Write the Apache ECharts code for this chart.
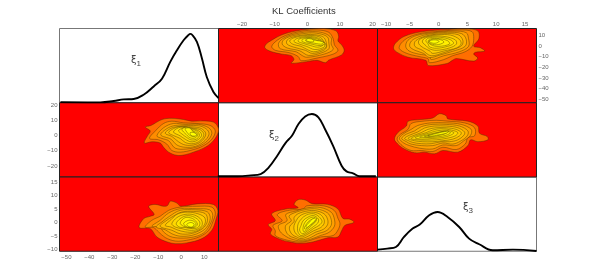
<!DOCTYPE html>
<html><head><meta charset="utf-8">
<style>html,body{margin:0;padding:0;background:#fff}#c{width:596px;height:280px}</style>
<script src="https://cdn.jsdelivr.net/npm/echarts@6/dist/echarts.min.js"></script>
</head><body><div id="c"></div>
<script>
const title = 'KL Coefficients';
const xi1Range = [-53, 16.2], xi2Range = [-27.2, 21.5], xi3Range = [-10.6, 17];
const xi1Ticks = [-50,-40,-30,-20,-10,0,10];
const xi2Ticks = [-20,-10,0,10,20];
const xi3Ticks = [-10,-5,0,5,10,15];
const xi1Density = [[-52.6,.009],[-35.2,.005],[-29.4,.023],[-25.1,.045],[-20.7,.05],[-16.4,.108],[-12,.22],[-8.4,.324],[-4.8,.55],[-1.9,.707],[1,.842],[3.2,.914],[3.9,.928],[4.6,.919],[6.8,.82],[9,.595],[11.1,.347],[14,.144],[16.2,.063]];
const xi2Density = [[-27.4,.01],[-21.4,.01],[-17.3,.022],[-14.3,.04],[-11.8,.13],[-9.2,.287],[-6.7,.457],[-4.7,.556],[-2.7,.713],[-.65,.816],[1.4,.848],[3.4,.803],[5.4,.646],[7.9,.42],[10.5,.152],[12,.076],[14,.05],[16,.01],[21,.01]];
const xi3Density = [[-10.6,.022],[-8.9,.036],[-7.4,.058],[-6,.193],[-4.5,.305],[-3.26,.359],[-1.63,.484],[-.18,.529],[1.56,.462],[3.58,.327],[5.3,.17],[7.06,.094],[9.4,.013],[12.9,.022],[17,.004]];
// contour rings, outermost first: [xi1, xi2]
const contours12 = [
[[-15.7,5.55],[-13.2,6.6],[-8.4,10.5],[-4.1,11.3],[1,10.5],[4.6,9.4],[9,9.6],[14,8.8],[16.1,5.1],[15.8,.85],[13.3,-4.5],[9.7,-8.3],[5.3,-10.9],[1.7,-12.6],[-1.9,-13],[-5.5,-10.9],[-7.7,-7.7],[-9.2,-4.9],[-12.8,-4.1],[-16.1,-4.9],[-14.7,-.2],[-13.5,3]],
[[-13.8,-1.9],[-11.3,3],[-7.7,7.9],[-4.1,9.4],[1,8.3],[6.8,7.9],[12.6,6.6],[14.8,3],[13.3,-2.4],[9.7,-6.6],[5.3,-9.2],[-.5,-10.9],[-4.1,-9.8],[-6.3,-5.6],[-9.9,-2.8]],
[[-10.6,-.2],[-7.7,5.1],[-3.4,7.9],[1.7,7.3],[7.5,7.3],[11.9,5.1],[13.3,1.5],[11.4,-3.4],[7.5,-7.1],[2.4,-8.8],[-2.6,-8.3],[-5.5,-3.4],[-8.4,-1.9]],
[[-8.9,.4],[-6.3,4.5],[-2.6,6.6],[2.4,6.6],[8.2,6.2],[11.4,3.6],[12,.4],[9.7,-4.1],[6.1,-7.1],[1.7,-7.7],[-1.9,-6.2],[-4.5,-2.4]],
[[-7,1.5],[-4.8,4.5],[-1.9,5.8],[3.2,5.8],[8.2,4.9],[10.4,2.3],[10.5,-.2],[8.5,-4.1],[5.3,-6.2],[1.7,-6.2],[-1.2,-4.1],[-4.1,-.6]],
[[-5.5,1.9],[-3.4,4.5],[-.5,5.8],[3.9,5.1],[7.9,4],[9.7,1.5],[9.4,-1.3],[7.5,-4.1],[4.6,-5.4],[1.7,-4.5],[-.5,-1.9],[-3.4,0]],
[[-3.4,2.3],[-1.2,5.1],[1.7,5.3],[5.3,4.5],[8.2,2.3],[8.8,-.2],[6.8,-3.2],[4.2,-4.1],[1.7,-2.4],[-.5,-.2]],
[[-1.2,3.2],[1,4.9],[3.9,4.5],[6.8,2.8],[7.9,.2],[6.5,-2.4],[4.2,-2.8],[2.2,-1.1],[.3,1]],
[[.3,4],[2.4,5.4],[5,3.2],[7.2,.85],[6.1,-1.5],[3.9,-1.5],[2.2,.6]],
[[1.7,4.5],[3.6,4.9],[5.3,2.3],[6.5,.4],[5.3,-.6],[3.6,.2],[2.4,2.3]],
[[3.9,1.9],[5.6,1.9],[6.8,.4],[5.6,-.4],[4.2,.2]]
];
// [xi1, xi3]
const contours13 = [
[[-18.3,-1.8],[-16.4,1.5],[-13.5,2.4],[-11.8,3.1],[-14.2,6.1],[-11.3,6.8],[-7.7,6.1],[-6,6.4],[-4.8,8],[-1.9,7.3],[-.2,6.1],[6.8,7],[14,6.8],[15.9,4.6],[15.2,1.5],[13.3,-2.8],[9,-5.9],[2.4,-7.5],[-2.6,-7.8],[-6.3,-7.1],[-10.6,-5.3],[-13.5,-2.2]],
[[-15.7,-1.6],[-12.8,.9],[-9.2,2.4],[-5.5,4.6],[-.5,5.8],[6.8,6.1],[13.3,5.8],[14.8,3.6],[13.7,.3],[11.9,-2.8],[8.2,-5.1],[2.4,-6.5],[-2.6,-6.8],[-7,-5.5],[-9.9,-3.4],[-12.1,-1.8]],
[[-12.8,-1.3],[-9.2,.9],[-5.5,3.6],[-.5,5.2],[6.8,5.2],[12.3,4.8],[13.7,2.7],[12.3,-1],[9.7,-3.8],[5.3,-5.3],[-.5,-5.7],[-4.8,-5.1],[-7.7,-3.4],[-9.4,-1.6]],
[[-10.9,-1.6],[-8.4,.3],[-5.1,2.4],[-.5,4.6],[6.1,4.8],[11.4,4],[12.6,1.5],[11.1,-1.6],[8.5,-3.4],[4.6,-4.7],[-.5,-5],[-4.1,-4.1],[-7,-2.6]],
[[-9.2,-1.3],[-6.3,.9],[-4.1,2.1],[.3,4],[5.3,4.2],[10.4,3.4],[11.4,.9],[10,-1.6],[7.5,-3.1],[3.9,-4.1],[-.5,-4.1],[-4.1,-2.8]],
[[-7,-1],[-4.5,1.1],[-1.9,3.1],[1.7,3.9],[6.1,3.6],[10,2.1],[10.4,-.1],[8.5,-2.2],[5.3,-3.4],[1.7,-3.4],[-1.9,-2.6],[-4.5,-1.6]],
[[-4.1,-.4],[-1.9,1.9],[1.7,3.1],[5.6,2.9],[8.7,1.1],[9,-1],[6.8,-2.5],[3.6,-2.8],[.3,-2.2],[-2.6,-1.6]],
[[-2.2,-.4],[-.5,1.5],[2.4,2.6],[5.6,2.1],[8,.3],[7.5,-1.6],[5,-2.2],[1.7,-1.8],[-.8,-1.6]],
[[-.5,-.1],[1.7,1.9],[5,1.5],[7,-.35],[6.1,-1.6],[3.6,-1.8],[1,-1.3]],
[[1,-.35],[3.2,.9],[5.3,.6],[6.4,-.6],[5,-1.6],[2.7,-1.6]],
[[2.4,-.6],[4.2,.1],[5.6,-.6],[4.6,-1.6],[3,-1.3]]
];
// [xi3, xi2]
const contours32 = [
[[-7.66,-2.35],[-7.08,1.9],[-5.6,6.2],[-5.3,9.4],[-3,10.5],[-1,11.5],[.16,14.3],[1.32,13],[1.6,10.9],[5.1,9.4],[6.83,6.2],[7.1,1.5],[8.45,-.65],[8.57,-2.8],[6.83,-4.05],[5.56,-2.8],[5.1,-6.6],[3.35,-10.9],[.74,-9.8],[-.7,-12],[-2.44,-10.9],[-4.18,-11.3],[-6.2,-8.3],[-7.08,-5.55]],
[[-7.2,-2.35],[-6.6,.85],[-5.3,4],[-4.76,7.9],[-2.7,9.4],[-.4,10],[1.6,9.4],[4.5,8.3],[6.25,5.1],[6.25,-.2],[5.1,-1.3],[4.63,-5.55],[3.06,-9.2],[.74,-7.7],[-1,-10.5],[-3,-9.8],[-4.76,-9.8],[-6.2,-7]],
[[-6.8,-1.9],[-6.2,.85],[-4.76,4],[-3.6,6.6],[-1.3,8.3],[1.32,8.3],[3.93,7.3],[5.67,4],[5.56,.2],[4.4,-3.4],[3.06,-6.6],[.74,-6.2],[-1,-8.8],[-3.3,-8.3],[-5.05,-6.6],[-6.04,-4.9]],
[[-6.4,-1.9],[-5.6,.85],[-4.18,3],[-3,5.8],[-1,7.3],[1.32,7.3],[3.64,6.2],[5.1,3],[4.97,-.2],[3.93,-3.4],[2.48,-5.6],[.74,-4.9],[-1,-6.6],[-3,-6.6],[-4.76,-5.6],[-5.6,-4]],
[[-5.9,-1.9],[-5.05,.2],[-3.6,2.35],[-2.44,4.9],[-.7,6.2],[1.32,6.2],[3.35,5.1],[4.5,2.35],[4.4,.2],[3.35,-2.8],[1.9,-4.05],[.45,-4.05],[-1.28,-5.35],[-3,-5.35],[-4.5,-4.5],[-5.2,-3.4]],
[[-5.3,-1.9],[-4.47,-.2],[-3,1.9],[-1.86,4],[-.4,5.1],[1.32,5.1],[3.06,4],[3.93,1.9],[3.64,-.2],[2.48,-2.35],[.74,-3.4],[-1,-4.05],[-2.74,-4.05],[-4.18,-3.4]],
[[-4.76,-1.9],[-3.6,.2],[-2.15,1.9],[-1,3.6],[.45,4.5],[2.2,3.6],[3.35,1.9],[2.9,-.2],[1.32,-1.9],[-.4,-2.8],[-2.15,-3],[-3.6,-2.8]],
[[-4.07,-1.5],[-2.74,.4],[-1.4,1.9],[-.12,3.2],[1.32,3.4],[2.66,1.9],[2.08,.2],[.74,-1.3],[-1,-1.9],[-2.74,-2.35]],
[[-3.3,-1.1],[-1.86,.6],[-.4,1.9],[1.03,2.8],[2.08,1.9],[1.32,.2],[-.12,-.85],[-1.86,-1.3]],
[[-2.44,-.65],[-1,.85],[.45,2.35],[1.5,2.35],[.92,.85],[-.4,-.2],[-1.75,-.85]],
[[-1.86,-.2],[-.4,1.3],[.74,2.35],[1.73,2.8],[1.32,1.5],[-.12,.4],[-1.28,-.4]]
];
const levelColors = ['#ff6e00','#ff8c00','#ffa000','#ffb000','#ffbe00','#ffcc00','#ffd800','#ffe400','#ffee00','#fff800','#ffff00'];
const ranges = [xi1Range, xi2Range, xi3Range];
const ticks = [xi1Ticks, xi2Ticks, xi3Ticks];
const densities = [xi1Density, xi2Density, xi3Density];
const swapRing = r => r.map(p => [p[1], p[0]]);
// cellRings[row][col]: x variable = col, y variable = row
const cellRings = [
 [null, contours12.map(swapRing), contours13.map(swapRing)],
 [contours12, null, contours32],
 [contours13, contours32.map(swapRing), null]
];
const L = 59.5, T = 28.5, W = 159, H = 74.25;
const fmt = v => String(v).replace('-', '\u2212');
const grids=[], xAxes=[], yAxes=[], series=[];
function axisBase(range, tickVals, pos, gridIndex, showLabel, showTick, margin){
  return {type:'value', gridIndex, position:pos, min:range[0], max:range[1], scale:true,
    splitLine:{show:false}, axisLine:{show:false},
    axisTick:{show:showTick, inside:true, length:2, customValues:tickVals, lineStyle:{color:'#222',width:.6}},
    axisLabel:{show:showLabel, customValues:tickVals, formatter:fmt, fontSize:6, color:'#666', margin,
      fontFamily:'Liberation Sans', hideOverlap:false}};
}
for(let r=0;r<3;r++) for(let c=0;c<3;c++){
  const g = grids.length, diag = r===c;
  grids.push({left:L+c*W, top:T+r*H, width:W, height:H, show:true,
    backgroundColor: diag?'#fff':'#ff0000', borderColor: diag?'#777':'#222', borderWidth:1, z:diag?1:2});
  xAxes.push(axisBase(ranges[c], ticks[c], 'bottom', g, r===2&&c===0, !diag, 3));
  const topAxis = axisBase(ranges[c], ticks[c], 'top', g, r===0&&c>0, !diag, 1.5);
  if(c===2) topAxis.axisLabel.alignMinLabel = 'left';
  xAxes.push(topAxis);
  if(diag){
    const ya = axisBase([0,1], [], 'left', g, false, false, 1);
    yAxes.push(ya, Object.assign({}, ya, {position:'right'}));
    series.push({type:'line', xAxisIndex:2*g, yAxisIndex:2*g, data:densities[r], smooth:.4, symbol:'none',
      lineStyle:{color:'#000', width:1.9}, silent:true, clip:true, z:5});
  } else {
    yAxes.push(axisBase(ranges[r], ticks[r], 'left', g, c===0&&r>0, true, 2));
    yAxes.push(axisBase(ranges[r], ticks[r], 'right', g, c===2&&r===0, true, 2));
    const rings = cellRings[r][c];
    series.push({type:'custom', coordinateSystem:'cartesian2d', xAxisIndex:2*g, yAxisIndex:2*g,
      data:rings.map((_,i)=>[i]), silent:true, clip:true, z:4,
      renderItem:(params, api)=>{
        const i = api.value(0);
        return {type:'polygon', shape:{points:rings[i].map(p=>api.coord(p)), smooth:.35},
          style:{fill:levelColors[i], stroke:'rgba(70,50,0,.72)', lineWidth:.6}};
      }});
  }
}
function xiLabel(n, x, y){
  return {type:'text', x, y, style:{text:'{a|\u03be}{b|'+n+'}', rich:{
    a:{fontSize:10, fontFamily:'DejaVu Sans', fill:'#444', padding:[0,0,3,0]},
    b:{fontSize:8, fontFamily:'Liberation Sans', fill:'#444', padding:[4,0,0,0]}}}, z:10};
}
const chart = echarts.init(document.getElementById('c'), null, {renderer:'canvas'});
chart.setOption({animation:false, backgroundColor:'#fff',
  title:{text:title, left:272, top:6, padding:0, textStyle:{fontSize:9.5, fontWeight:'normal', color:'#333', fontFamily:'Liberation Sans'}},
  grid:grids, xAxis:xAxes, yAxis:yAxes, series,
  graphic:[xiLabel(1,131,55), xiLabel(2,269,130), xiLabel(3,463,202)]
});
</script></body></html>
